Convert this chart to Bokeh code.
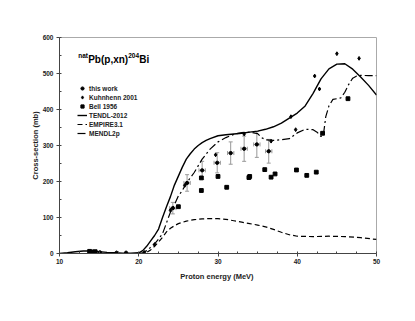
from bokeh.plotting import figure
from bokeh.models import (Whisker, ColumnDataSource, Legend, LegendItem, Label,
                          FixedTicker, TeeHead)
from bokeh.embed import file_html
from bokeh.resources import INLINE

# ---------------- data ----------------
this_e = [14.2, 15.1, 17.2, 18.4, 24.3, 26.1, 28.0, 29.9, 31.6, 33.3, 34.9, 36.4]
this_s = [5, 3, 2, 2, 126, 196, 231, 252, 279, 291, 303, 284]
this_ds = [0, 0, 0, 0, 16, 23, 25, 28, 31, 35, 36, 33]
this_de = [0, 0, 0, 0, 0.4, 0.4, 0.4, 0.4, 0.4, 0.4, 0.4, 0.4]

kuhn_e = [20.7, 22.0, 24.0, 25.8, 29.7, 33.3, 36.7, 39.2, 39.8, 42.2, 42.8, 45.0, 47.8]
kuhn_s = [3, 25, 120, 189, 274, 332, 312, 380, 344, 493, 457, 555, 542]

bell_e = [13.8, 14.5, 25.0, 27.9, 27.9, 30.0, 31.1, 33.9, 34.0, 35.9, 36.7, 37.2, 39.9, 41.2, 42.4, 43.2, 46.4]
bell_s = [6, 5, 130, 210, 175, 214, 184, 211, 214, 233, 212, 221, 232, 217, 226, 334, 430]

tendl_e = [10, 11, 12, 13, 14, 15, 16, 17, 18, 19, 20, 20.5, 21, 21.5, 22, 22.5, 23, 23.5, 24, 24.5,
           25, 25.5, 26, 26.5, 27, 27.5, 28, 28.5, 29, 30, 31, 32, 33, 34, 35, 36, 37, 38, 39, 40,
           41, 42, 43, 44, 45, 46, 47, 48, 49, 50]
tendl_s = [0, 2, 5, 7, 7, 5, 3, 2, 1, 1, 2, 8, 20, 35, 50, 68, 100, 130, 158, 190,
           215, 240, 262, 277, 290, 300, 308, 314, 319, 327, 330, 332, 334, 337, 340, 345, 352, 362, 376, 390,
           410, 445, 485, 513, 526, 527, 512, 490, 467, 440]

empire_e = [10, 15, 20, 20.5, 21, 21.5, 22, 22.5, 23, 23.5, 24, 24.5, 25, 26, 27, 28, 29, 30, 31, 32,
            33, 34, 35, 36, 37, 38, 39, 40, 42, 44, 46, 48, 50]
empire_s = [0, 0, 0, 0, 3, 10, 20, 32, 45, 60, 70, 77, 83, 90, 94, 96, 97, 97, 95, 91,
            87, 83, 79, 74, 67, 59, 52, 48, 47, 48, 47, 44, 39]

mendl_e = [10, 20, 20.5, 21, 21.5, 22, 22.5, 23, 23.5, 24, 24.5, 25, 25.5, 26, 26.5, 27, 28, 29, 30, 31,
           32, 33, 34, 35, 35.5, 36, 37, 38, 39, 40, 41, 42, 42.5, 43, 43.3, 43.6, 44, 44.5, 45, 45.5,
           46, 46.5, 47, 47.5, 48, 49, 50]
mendl_s = [0, 0, 2, 8, 17, 27, 40, 55, 85, 115, 135, 160, 175, 195, 210, 225, 262, 290, 310, 322,
           331, 336, 337, 333, 322, 316, 314, 316, 319, 335, 345, 344, 337, 325, 330, 380, 410, 428, 430, 432,
           448, 470, 487, 493, 495, 494, 494]

x_ticks = [10, 20, 30, 40, 50]
y_ticks = [0, 100, 200, 300, 400, 500, 600]

FONT = "Liberation Sans"

p = figure(width=399, height=305, output_backend="svg", toolbar_location=None,
           x_range=(10, 50), y_range=(0, 600),
           min_border_left=59, min_border_right=23, min_border_top=37, min_border_bottom=52)
p.xgrid.visible = False
p.ygrid.visible = False
p.outline_line_color = "#aaaaaa"
p.outline_line_width = 1
p.background_fill_color = "white"
p.border_fill_color = "white"

for ax in (p.xaxis[0], p.yaxis[0]):
    ax.axis_line_color = "#444444"
    ax.major_tick_line_color = "#444444"
    ax.minor_tick_line_color = "#444444"
    ax.major_tick_in = 0
    ax.major_tick_out = 3
    ax.minor_tick_in = 2
    ax.minor_tick_out = 0
    ax.major_label_text_font = FONT
    ax.major_label_text_font_style = "bold"
    ax.major_label_text_font_size = "6.5px"
    ax.major_label_text_color = "#222222"
    ax.axis_label_text_font = FONT
    ax.axis_label_text_font_style = "bold"
    ax.axis_label_text_font_size = "7.5px"
    ax.axis_label_text_color = "#222222"

p.xaxis.ticker = FixedTicker(ticks=x_ticks, minor_ticks=[10 + 2.5 * i for i in range(17)])
p.yaxis.ticker = FixedTicker(ticks=y_ticks, minor_ticks=[50 * i for i in range(13)])
p.xaxis.axis_label = "Proton  energy (MeV)"
p.yaxis.axis_label = "Cross-section (mb)"
p.xaxis.major_label_standoff = 2
p.xaxis.axis_label_standoff = 5
p.yaxis.major_label_standoff = 3
p.yaxis.axis_label_standoff = 0

# curves
r_tendl = p.line(tendl_e, tendl_s, line_color="black", line_width=1.4)
r_empire = p.line(empire_e, empire_s, line_color="black", line_width=1.2, line_dash="5 3")
r_mendl = p.line(mendl_e, mendl_s, line_color="black", line_width=1.2, line_dash="8 3 2 3")

# error bars
src = ColumnDataSource(dict(
    e=this_e, s=this_s,
    lo=[s - d for s, d in zip(this_s, this_ds)], hi=[s + d for s, d in zip(this_s, this_ds)],
    elo=[e - d for e, d in zip(this_e, this_de)], ehi=[e + d for e, d in zip(this_e, this_de)],
))
p.add_layout(Whisker(source=src, base="e", lower="lo", upper="hi", dimension="height",
                     line_color="#999999", line_width=1,
                     upper_head=TeeHead(size=4, line_color="#999999"),
                     lower_head=TeeHead(size=4, line_color="#999999")))
p.add_layout(Whisker(source=src, base="s", lower="elo", upper="ehi", dimension="width",
                     line_color="#999999", line_width=1,
                     upper_head=TeeHead(size=4, line_color="#999999"),
                     lower_head=TeeHead(size=4, line_color="#999999")))

r_bell = p.scatter(bell_e, bell_s, marker="square", size=3.8, color="black")
r_kuhn = p.scatter(kuhn_e, kuhn_s, marker="diamond", size=3.8, color="black")
r_this = p.scatter("e", "s", source=src, marker="circle", size=3.3, color="black")

legend = Legend(items=[
    LegendItem(label="this work", renderers=[r_this]),
    LegendItem(label="Kuhnhenn 2001", renderers=[r_kuhn]),
    LegendItem(label="Bell 1956", renderers=[r_bell]),
    LegendItem(label="TENDL-2012", renderers=[r_tendl]),
    LegendItem(label="EMPIRE3.1", renderers=[r_empire]),
    LegendItem(label="MENDL2p", renderers=[r_mendl]),
], location=(18, 116), orientation="vertical")
legend.glyph_width = 10
legend.glyph_height = 8
legend.label_height = 8
legend.label_standoff = 2
legend.spacing = 1
legend.padding = 0
legend.margin = 0
legend.border_line_color = None
legend.background_fill_alpha = 0
legend.label_text_font = FONT
legend.label_text_font_style = "bold"
legend.label_text_font_size = "6.5px"
legend.label_text_color = "#222222"
p.add_layout(legend, "center")

# title made of pieces
TX, TY = 12.36, 540
pieces = [("nat", "6.5px", 0, 4), ("Pb(p,xn)", "10px", 10, 0), ("204", "6.5px", 50, 4), ("Bi", "10px", 61, 0)]
for txt, fs, dx, dy in pieces:
    p.add_layout(Label(x=TX, y=TY, text=txt, x_offset=dx, y_offset=dy,
                       text_font=FONT, text_font_style="bold", text_font_size=fs,
                       text_color="black", text_baseline="alphabetic"))

open("out.html", "w").write(file_html(p, INLINE))
